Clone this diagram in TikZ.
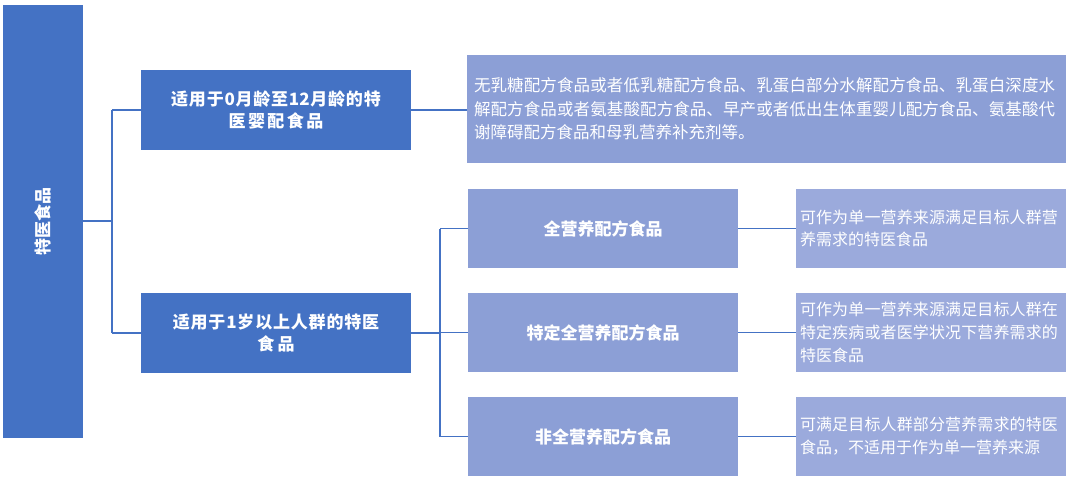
\documentclass[tikz,border=0pt]{standalone}
\usepackage{fontspec}
\setmainfont{Noto Sans CJK SC}
\newfontfamily\cjk{Noto Sans CJK SC}
\XeTeXlinebreaklocale "zh"
\XeTeXlinebreakskip = 0pt plus 1pt
\begin{document}
\begin{tikzpicture}[x=1pt,y=-1pt,
  bx/.style={draw=none, text=white, font=\cjk\fontsize{17}{22}\selectfont\bfseries, align=center, inner sep=0},
  ln/.style={line width=1.3pt}]
\definecolor{d}{HTML}{4472C4}
\definecolor{m}{HTML}{8C9FD6}
\definecolor{l}{HTML}{9BAADC}
\useasboundingbox (0,0) rectangle (1080,491);
\fill[white] (0,0) rectangle (1080,491);
\node[bx, fill=d, minimum width=80, minimum height=433] (root) at (43,221.5) {};
\node[text=white, font=\cjk\fontsize{17}{22}\selectfont\bfseries, rotate=90] at (root) {特医食品};
\node[bx, fill=d, minimum width=270, minimum height=80, text width=262] (a) at (276,110) {适用于0月龄至12月龄的特\\医婴配食品};
\node[bx, fill=d, minimum width=270, minimum height=80, text width=262] (b) at (276,333) {适用于1岁以上人群的特医\\食品};
\node[bx, fill=m, minimum width=599, minimum height=108, text width=585, align=left, font=\cjk\fontsize{16.5}{23.5}\selectfont] (at) at (766.5,109) {无乳糖配方食品或者低乳糖配方食品、乳蛋白部分水解配方食品、乳蛋白深度水解配方食品或者氨基酸配方食品、早产或者低出生体重婴儿配方食品、氨基酸代谢障碍配方食品和母乳营养补充剂等。};
\node[bx, fill=m, minimum width=270, minimum height=79] (m1) at (603,228.5) {全营养配方食品};
\node[bx, fill=m, minimum width=270, minimum height=79] (m2) at (603,332.5) {特定全营养配方食品};
\node[bx, fill=m, minimum width=270, minimum height=79] (m3) at (603,436.5) {非全营养配方食品};
\node[bx, fill=l, minimum width=270, minimum height=79, text width=262, align=left, font=\cjk\fontsize{16}{22}\selectfont] (r1) at (931,228.5) {可作为单一营养来源满足目标人群营养需求的特医食品};
\node[bx, fill=l, minimum width=270, minimum height=79, text width=262, align=left, font=\cjk\fontsize{16}{23}\selectfont] (r2) at (931,332.5) {可作为单一营养来源满足目标人群在特定疾病或者医学状况下营养需求的特医食品};
\node[bx, fill=l, minimum width=270, minimum height=79, text width=262, align=left, font=\cjk\fontsize{16}{23}\selectfont] (r3) at (931,436.5) {可满足目标人群部分营养需求的特医食品，不适用于作为单一营养来源};
\coordinate (j1) at (112,221);
\coordinate (j2) at (440,333);
\draw[ln, draw=d] (root.east |- j1) -- (j1);
\draw[ln, draw=d] (j1 |- a) -- (j1 |- b);
\draw[ln, draw=d] (j1 |- a) -- (a.west);
\draw[ln, draw=d] (j1 |- b) -- (b.west);
\draw[ln, draw=d] (a.east) -- (at.west |- a);
\draw[ln, draw=d] (b.east) -- (j2);
\draw[ln, draw=d] (j2 |- m1) -- (j2 |- m3);
\draw[ln, draw=d] (j2 |- m1) -- (m1.west);
\draw[ln, draw=d] (j2 |- m2) -- (m2.west);
\draw[ln, draw=d] (j2 |- m3) -- (m3.west);
\draw[ln, draw=d] (m1.east) -- (r1.west);
\draw[ln, draw=d] (m2.east) -- (r2.west);
\draw[ln, draw=d] (m3.east) -- (r3.west);
\end{tikzpicture}
\end{document}
